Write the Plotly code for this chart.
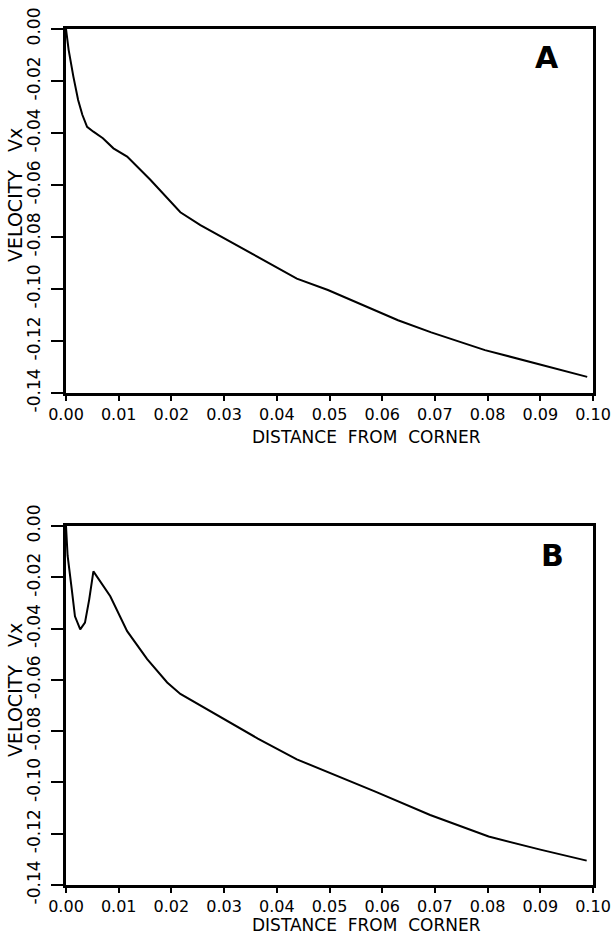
import plotly.graph_objects as go

# Panel A data
xa = [0.0, 0.0005, 0.0014, 0.0023, 0.0031, 0.0040, 0.0052, 0.0070, 0.0090, 0.0116,
      0.0160, 0.0217, 0.0255, 0.0300, 0.0350, 0.0400, 0.0438, 0.0497, 0.0572, 0.0630,
      0.0693, 0.0795, 0.0903, 0.0989]
ya = [0.0, -0.0080, -0.0183, -0.0273, -0.0330, -0.0376, -0.0395, -0.0420, -0.0459, -0.0491,
      -0.0580, -0.0705, -0.0754, -0.0805, -0.0862, -0.0918, -0.0960, -0.1004, -0.1068, -0.1120,
      -0.1167, -0.1235, -0.1292, -0.1338]

# Panel B data
xb = [0.0, 0.0003, 0.0011, 0.0017, 0.0027, 0.0036, 0.0044, 0.0052, 0.0084, 0.0116,
      0.0154, 0.0192, 0.0217, 0.0255, 0.0300, 0.0364, 0.0438, 0.0512, 0.0587, 0.0691,
      0.0802, 0.0900, 0.0988]
yb = [0.0, -0.0115, -0.0248, -0.0352, -0.0403, -0.0377, -0.0287, -0.0177, -0.0274, -0.0410,
      -0.0519, -0.0610, -0.0655, -0.0700, -0.0755, -0.0829, -0.0910, -0.0972, -0.1036, -0.1127,
      -0.1211, -0.1262, -0.1305]

x_ticks = [0.00, 0.01, 0.02, 0.03, 0.04, 0.05, 0.06, 0.07, 0.08, 0.09, 0.10]
x_labels = ["0.00", "0.01", "0.02", "0.03", "0.04", "0.05", "0.06", "0.07", "0.08", "0.09", "0.10"]
y_ticks = [0.00, -0.02, -0.04, -0.06, -0.08, -0.10, -0.12, -0.14]
y_labels = ["0.00", "-0.02", "-0.04", "-0.06", "-0.08", "-0.10", "-0.12", "-0.14"]

x_title = "DISTANCE  FROM  CORNER"
y_title = "VELOCITY   Vx"
panel_labels = ["A", "B"]

W, H = 611, 936
FONT = "DejaVu Sans"

fig = go.Figure()
fig.add_trace(go.Scatter(x=xa, y=ya, mode="lines", line=dict(color="black", width=2),
                         xaxis="x", yaxis="y", showlegend=False))
fig.add_trace(go.Scatter(x=xb, y=yb, mode="lines", line=dict(color="black", width=2),
                         xaxis="x2", yaxis="y2", showlegend=False))

xdom = [66 / W, 593 / W]
ydomA = [1 - 393 / H, 1 - 29 / H]
ydomB = [1 - 885 / H, 1 - 526 / H]

xcommon = dict(range=[0, 0.10], tickvals=x_ticks, ticktext=x_labels, showgrid=False,
               zeroline=False, showline=True, linecolor="black", linewidth=2.5, mirror=True,
               ticks="outside", ticklen=5, tickwidth=2, tickcolor="black", automargin=False,
               ticklabeloverflow="allow",
               tickfont=dict(family=FONT, size=16, color="black"), domain=xdom)
ycommon = dict(range=[-0.14, 0], tickvals=y_ticks, ticktext=y_labels, showgrid=False,
               zeroline=False, showline=True, linecolor="black", linewidth=2.5, mirror=True,
               ticks="outside", ticklen=12, tickwidth=2, tickcolor="black", tickangle=-90,
               automargin=False, ticklabelstandoff=4, ticklabeloverflow="allow",
               tickfont=dict(family=FONT, size=17, color="black"))

fig.update_layout(
    template="none",
    width=W, height=H, margin=dict(l=0, r=0, t=0, b=0, pad=0), autosize=False,
    paper_bgcolor="white", plot_bgcolor="white",
    xaxis=dict(**xcommon, anchor="y"),
    yaxis=dict(**ycommon, domain=ydomA, anchor="x"),
    xaxis2=dict(**xcommon, anchor="y2"),
    yaxis2=dict(**ycommon, domain=ydomB, anchor="x2"),
)

ann = []
for px_y in [437, 925]:
    ann.append(dict(text=x_title, x=366 / W, y=1 - px_y / H, xref="paper", yref="paper",
                    showarrow=False, xanchor="center", yanchor="middle",
                    font=dict(family=FONT, size=17, color="black")))
for px_y in [195, 690]:
    ann.append(dict(text=y_title, x=15 / W, y=1 - px_y / H, xref="paper", yref="paper",
                    showarrow=False, xanchor="center", yanchor="middle", textangle=-90,
                    font=dict(family=FONT, size=19, color="black")))
for lbl, (px_x, px_y) in zip(panel_labels, [(547, 57), (552, 555)]):
    ann.append(dict(text="<b>" + lbl + "</b>", x=px_x / W, y=1 - px_y / H, xref="paper",
                    yref="paper", showarrow=False, xanchor="center", yanchor="middle",
                    font=dict(family=FONT, size=30, color="black")))
fig.update_layout(annotations=ann)

fig.write_html("out.html")
